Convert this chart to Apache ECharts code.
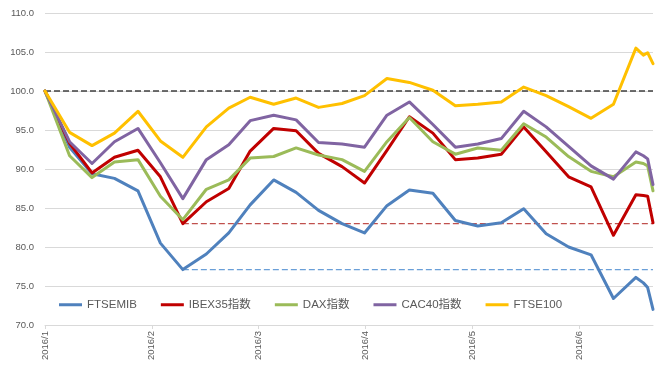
<!DOCTYPE html>
<html>
<head>
<meta charset="utf-8">
<script src="https://cdn.jsdelivr.net/npm/echarts@6/dist/echarts.min.js"></script>
<style>
html,body{margin:0;padding:0;background:#ffffff;}
#chart{width:665px;height:372px;}
</style>
</head>
<body>
<div id="chart"></div>
<script>
// ---- data ----
const monthLabels = ['2016/1', '2016/2', '2016/3', '2016/4', '2016/5', '2016/6'];
// x position of each observation, in months since 2016/1
const xMonths = [0, 0.23, 0.44, 0.65, 0.87, 1.08, 1.29, 1.51, 1.72, 1.92,
                 2.14, 2.35, 2.56, 2.78, 2.99, 3.20, 3.41, 3.63, 3.84, 4.05,
                 4.27, 4.48, 4.69, 4.90, 5.11, 5.32, 5.53, 5.60, 5.64, 5.69];
const seriesNames = ['FTSEMIB', 'IBEX35指数', 'DAX指数', 'CAC40指数', 'FTSE100'];
const ftsemib = [100, 92.8, 89.4, 88.8, 87.2, 80.5, 77.1, 79.1, 81.8, 85.4,
                 88.6, 87.0, 84.7, 83.0, 81.8, 85.3, 87.3, 86.9, 83.4, 82.7,
                 83.1, 84.9, 81.7, 80.0, 79.0, 73.4, 76.1, 75.4, 74.8, 72.0];
const ibex35 = [100, 93.3, 89.5, 91.5, 92.4, 89.0, 83.0, 85.8, 87.5, 92.3,
                95.2, 94.9, 92.0, 90.3, 88.2, 92.4, 96.7, 94.6, 91.2, 91.4,
                91.9, 95.4, 92.2, 89.0, 87.7, 81.5, 86.7, 86.6, 86.5, 83.1];
const dax = [100, 91.7, 88.9, 90.9, 91.2, 86.5, 83.5, 87.4, 88.6, 91.4,
             91.6, 92.7, 91.8, 91.2, 89.7, 93.5, 96.6, 93.5, 91.9, 92.7,
             92.4, 95.8, 94.1, 91.6, 89.7, 89.0, 90.9, 90.7, 90.4, 87.2];
const cac40 = [100, 93.5, 90.7, 93.5, 95.2, 90.8, 86.2, 91.2, 93.1, 96.2,
               96.9, 96.3, 93.4, 93.2, 92.8, 96.9, 98.6, 95.7, 92.8, 93.2,
               93.9, 97.4, 95.4, 92.9, 90.4, 88.7, 92.2, 91.7, 91.3, 88.0];
const ftse100 = [100, 94.7, 93.0, 94.6, 97.4, 93.6, 91.5, 95.4, 97.8, 99.2,
                 98.3, 99.1, 97.9, 98.4, 99.4, 101.6, 101.1, 100.1, 98.1, 98.3,
                 98.6, 100.5, 99.4, 98.0, 96.5, 98.3, 105.5, 104.6, 104.9, 103.5];
const baseLevel = 100;
const yMin = 70, yMax = 110, yStep = 5;

// ---- helpers ----
const values = [ftsemib, ibex35, dax, cac40, ftse100];
const colors = ['#4f81bd', '#c00000', '#9bbb59', '#8064a2', '#ffc000'];
const pairs = arr => arr.map((v, i) => [xMonths[i], v]);
const xEnd = xMonths[xMonths.length - 1];
// February low (first two months) as a reference level
function earlyLow(arr) {
  let bi = 0;
  arr.forEach((v, i) => { if (xMonths[i] < 2 && v < arr[bi]) bi = i; });
  return bi;
}
function refSeries(name, arr, color) {
  const i = earlyLow(arr);
  return {
    name: name, type: 'line', silent: true, showSymbol: false, symbol: 'none',
    data: [[xMonths[i], arr[i]], [xEnd, arr[i]]],
    lineStyle: {color: color, width: 1.2, type: [6, 3]},
    itemStyle: {color: color},
    emphasis: {disabled: true},
    tooltip: {show: false},
    z: 1
  };
}

const font = "'Liberation Sans', 'Noto Sans CJK JP', sans-serif";
const series = [
  {
    name: 'base', type: 'line', silent: true, showSymbol: false, symbol: 'none',
    data: [[0, baseLevel], [xEnd, baseLevel]],
    lineStyle: {color: '#404040', width: 1.5, type: [6, 3]},
    itemStyle: {color: '#404040'},
    emphasis: {disabled: true},
    z: 1
  },
  refSeries('ftsemibLow', ftsemib, '#6a9fd8'),
  refSeries('ibexLow', ibex35, '#c0504d')
];
seriesNames.forEach((name, k) => series.push({
  name: name,
  type: 'line',
  data: pairs(values[k]),
  showSymbol: false,
  symbol: 'none',
  smooth: false,
  lineStyle: {color: colors[k], width: 3, cap: 'round', join: 'round'},
  itemStyle: {color: colors[k]},
  z: 2 + k
}));

const chart = echarts.init(document.getElementById('chart'), null, {renderer: 'canvas'});
chart.setOption({
  animation: false,
  backgroundColor: '#ffffff',
  grid: {left: 45, right: 12, top: 13, bottom: 47, containLabel: false},
  xAxis: {
    type: 'value', min: 0, max: xEnd, interval: 1,
    axisLine: {show: true, lineStyle: {color: '#d9d9d9', width: 1}},
    axisTick: {show: true, length: 4, lineStyle: {color: '#d9d9d9'}},
    splitLine: {show: false},
    axisLabel: {
      rotate: 90, margin: 6, fontSize: 9.5, color: '#595959', fontFamily: font,
      formatter: v => (Number.isInteger(v) && monthLabels[v]) ? monthLabels[v] : '',
      showMaxLabel: false
    }
  },
  yAxis: {
    type: 'value', min: yMin, max: yMax, interval: yStep,
    axisLine: {show: false}, axisTick: {show: false},
    splitLine: {show: true, lineStyle: {color: '#d9d9d9', width: 1}},
    axisLabel: {margin: 11, fontSize: 9.5, color: '#595959', fontFamily: font,
      formatter: v => v.toFixed(1)}
  },
  legend: {
    data: seriesNames,
    left: 59, top: 299, padding: 0,
    icon: 'rect', itemWidth: 23, itemHeight: 3, itemGap: 24,
    textStyle: {fontSize: 11.5, color: '#595959', fontFamily: font}
  },
  series: series
});
</script>
</body>
</html>
